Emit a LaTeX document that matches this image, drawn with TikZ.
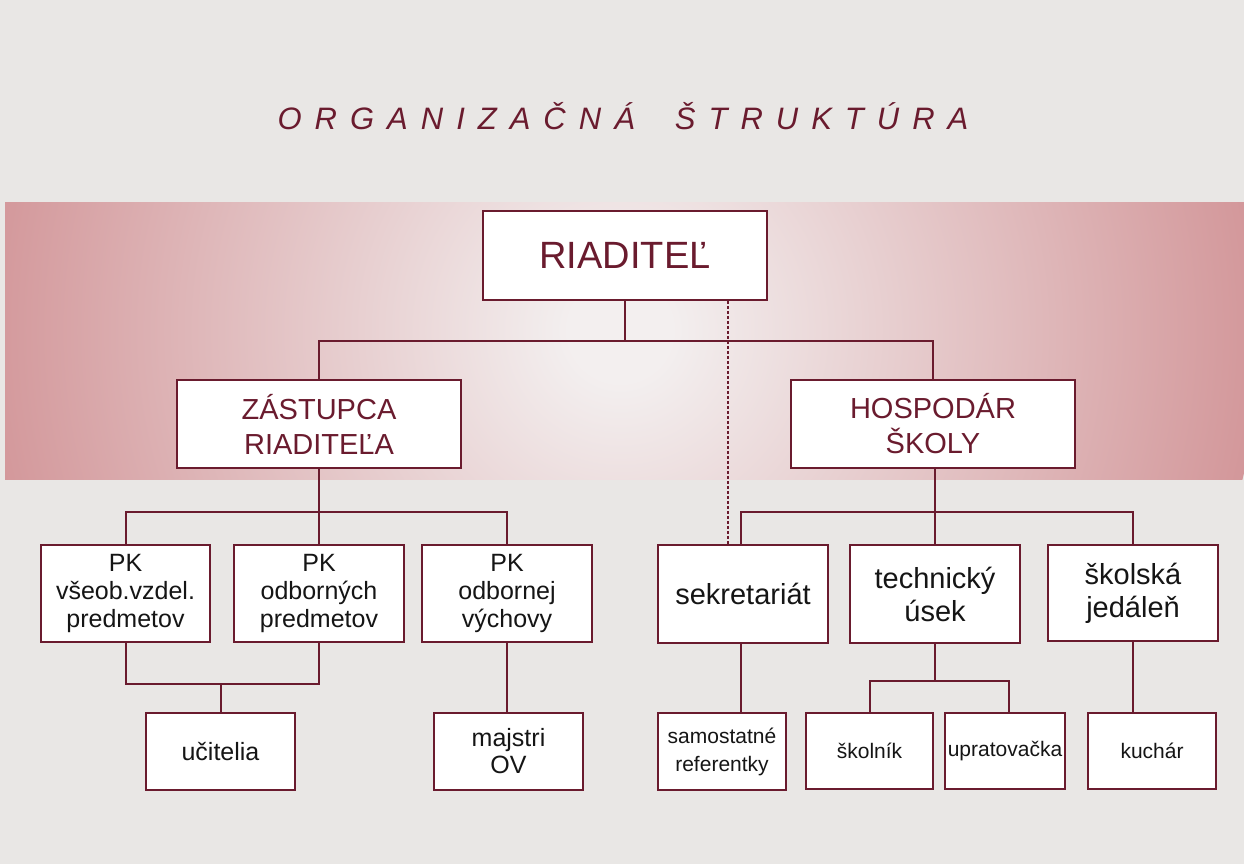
\documentclass[tikz,border=0pt]{standalone}
\usepackage{fontspec}
\setmainfont{Liberation Sans}
\usetikzlibrary{calc}
\definecolor{bg}{HTML}{E9E7E5}
\definecolor{maroon}{HTML}{6A1B2E}
\definecolor{bandc}{HTML}{F3EFEF}
\definecolor{bande}{HTML}{D3979A}
\definecolor{ink}{HTML}{151515}
\pgfdeclareradialshading{bandsh}{\pgfpoint{0bp}{0bp}}{color(0bp)=(bandc); color(2bp)=(bandc); color(25bp)=(bande); color(50bp)=(bande)}
\newcommand\lsp{\kern13pt}
\begin{document}
\begin{tikzpicture}[x=1pt,y=-1pt,
  box/.style={draw=maroon, line width=2.5pt, fill=white, inner sep=0pt, align=center},
  topbox/.style={box, text=maroon, minimum width=284pt, minimum height=88pt, font=\fontsize{29}{35}\selectfont},
  pkbox/.style={box, text=ink, minimum width=170pt, minimum height=97pt, font=\fontsize{25}{28}\selectfont},
  midbox/.style={box, text=ink, minimum width=170pt, minimum height=98pt, font=\fontsize{29}{33}\selectfont},
  lowbox/.style={box, text=ink, minimum width=149pt, minimum height=77pt, font=\fontsize{25}{27}\selectfont},
  smallbox/.style={box, text=ink, minimum height=76pt, font=\fontsize{21}{28}\selectfont},
  conn/.style={draw=maroon, line width=2pt},
  dashconn/.style={draw=maroon, line width=2.2pt, dash pattern=on 3pt off 2pt}]
\useasboundingbox (0,0) rectangle (1244,864);
\fill[bg] (0,0) rectangle (1244,864);
\begin{scope}
  \clip (5,202) rectangle (1244,479);
  \shade[shading=bandsh] (620,330) circle (640pt);
\end{scope}

\node[anchor=base, text=maroon, inner sep=0pt, font=\fontsize{31}{37}\selectfont\itshape] (title) at (623,130)
  {O\lsp R\lsp G\lsp A\lsp N\lsp I\lsp Z\lsp A\lsp Č\lsp N\lsp Á\kern40pt Š\lsp T\lsp R\lsp U\lsp K\lsp T\lsp Ú\lsp R\lsp A};

\node[box, text=maroon, minimum width=284pt, minimum height=89pt, font=\fontsize{38}{44}\selectfont] (riad) at (625,255.5) {RIADITEĽ};
\node[topbox] (zast) at (319,424) {ZÁSTUPCA\\RIADITEĽA};
\node[topbox] (hosp) at (933,424) {HOSPODÁR\\ŠKOLY};

\node[pkbox, minimum width=169pt] (pk1) at (125.5,593.5) {PK\\všeob.vzdel.\\predmetov};
\node[pkbox] (pk2) at (319,593.5) {PK\\odborných\\predmetov};
\node[pkbox] (pk3) at (507,593.5) {PK\\odbornej\\výchovy};

\node[midbox] (sekr) at (743,594) {sekretariát};
\node[midbox] (tech) at (935,594) {technický\\úsek};
\node[midbox, minimum height=96pt] (jed) at (1133,593) {školská\\jedáleň};

\node[lowbox] (uc) at (220.5,751.5) {učitelia};
\node[lowbox] (maj) at (508.5,751.5) {majstri\\OV};
\node[smallbox, minimum width=128pt, minimum height=77pt] (sam) at (722,751.5) {samostatné\\referentky};
\node[smallbox, minimum width=127pt] (skol) at (869.5,751) {školník};
\node[smallbox, minimum width=120pt] (uprat) at (1005,751) {upratovačka};
\node[smallbox, minimum width=128pt] (kuch) at (1152,751) {kuchár};

% connectors
\coordinate (dx) at (728,0);
\coordinate (upx) at (1009,0);
\coordinate (ucx) at (220.5,0);
\draw[conn] (riad.south) -- ++(0,40) coordinate (rj);
\draw[conn] (zast.north) |- (rj) -| (hosp.north);
\draw[dashconn] (riad.south -| dx) -- (sekr.north -| dx);

\draw[conn] (zast.south) -- ++(0,43) coordinate (zj);
\draw[conn] (pk1.north) |- (zj) -| (pk3.north);
\draw[conn] (zj) -- (pk2.north);

\draw[conn] (hosp.south -| tech.north) -- ++(0,43) coordinate (hj);
\draw[conn] (sekr.north) ++(-2,0) coordinate (sn) (sn) |- (hj) -| (jed.north);
\draw[conn] (hj) -- (tech.north);

\draw[conn] (pk1.south) -- ++(0,41) coordinate (pj1) -| (pk2.south);
\draw[conn] (pj1 -| ucx) -- (uc.north);
\draw[conn] (pk3.south) -- (pk3.south |- maj.north);

\draw[conn] ($(sekr.south)+(-2,0)$) coordinate (ss) -- (ss |- sam.north);
\draw[conn] (tech.south) -- ++(0,37) coordinate (tj);
\draw[conn] (skol.north) |- (tj) -| (uprat.north -| upx);
\draw[conn] (jed.south) -- (jed.south |- kuch.north);
\end{tikzpicture}
\end{document}
